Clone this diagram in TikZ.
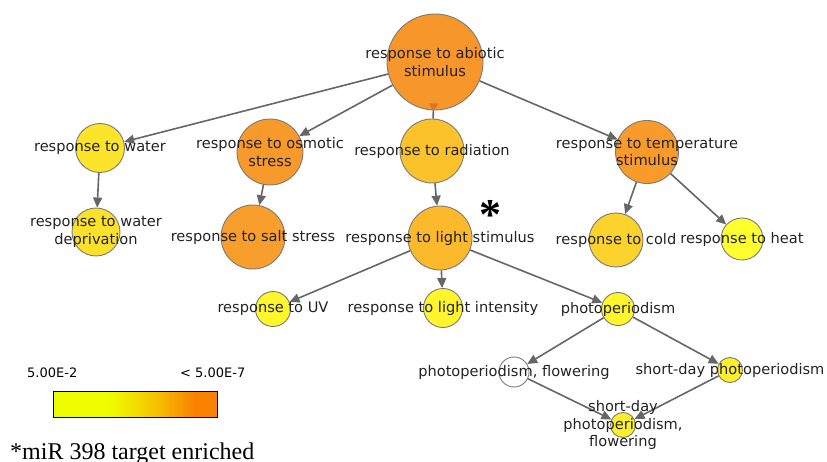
\documentclass[tikz,border=0pt]{standalone}
\usepackage{fontspec}
\setmainfont{DejaVu Sans}
\newfontfamily\tnr{Liberation Serif}
\usetikzlibrary{arrows.meta}
\definecolor{nodeborder}{HTML}{7A7A7A}
\definecolor{edgec}{HTML}{666666}
\definecolor{labelc}{HTML}{222222}
\definecolor{tipor}{HTML}{DC7420}
\definecolor{cAbiotic}{HTML}{F7962B}
\definecolor{cOsmotic}{HTML}{F79A2B}
\definecolor{cSalt}{HTML}{F79E2C}
\definecolor{cTemp}{HTML}{F89B2A}
\definecolor{cRad}{HTML}{FCC22B}
\definecolor{cLight}{HTML}{FBB92B}
\definecolor{cCold}{HTML}{FCD22C}
\definecolor{cWater}{HTML}{FCE42B}
\definecolor{cDep}{HTML}{FCE12B}
\definecolor{cHeat}{HTML}{FFFF2F}
\definecolor{cUV}{HTML}{FFF72D}
\definecolor{cInt}{HTML}{FFF52D}
\definecolor{cPhoto}{HTML}{FFF52D}
\definecolor{cShort}{HTML}{FFEF2C}
\definecolor{cSdf}{HTML}{FFEE2C}
\definecolor{legY}{HTML}{EEFE00}
\definecolor{legM}{HTML}{F5C800}
\definecolor{legO}{HTML}{F98200}
\pgfdeclarehorizontalshading{legendshade}{100bp}{color(0bp)=(legY); color(25bp)=(legY); color(42bp)=(legY); color(55bp)=(legM); color(68bp)=(legO); color(100bp)=(legO)}
\begin{document}
\begin{tikzpicture}[x=1pt,y=-1pt,
  go/.style={circle,draw=nodeborder,line width=0.9pt,inner sep=0pt,minimum size=#1},
  lbl/.style={text=labelc,font=\fontsize{14.6}{17.5}\selectfont,align=center,inner sep=0pt},
  leg/.style={text=black,font=\fontsize{13}{15}\selectfont,inner sep=0pt,anchor=base west},
  edge/.style={draw=edgec,line width=1.6pt,-{Triangle[length=10pt,width=9pt]}}]
\useasboundingbox (0,0) rectangle (827,462);
% nodes
\node[go=96pt,fill=cAbiotic] (abiotic) at (435,62) {};
\node[go=49pt,fill=cWater] (water) at (100,148) {};
\node[go=48pt,fill=cDep] (dep) at (96,232) {};
\node[go=66pt,fill=cOsmotic] (osmotic) at (270,152) {};
\node[go=64pt,fill=cSalt] (salt) at (253,237) {};
\node[go=64pt,fill=cRad] (rad) at (432,151) {};
\node[go=64pt,fill=cLight] (light) at (440,238) {};
\node[go=63pt,fill=cTemp] (temp) at (647,152) {};
\node[go=54pt,fill=cCold] (cold) at (616,240) {};
\node[go=42pt,fill=cHeat] (heat) at (742,239) {};
\node[go=35pt,fill=cUV] (uv) at (273,309) {};
\node[go=39pt,fill=cInt] (int) at (443,308) {};
\node[go=33pt,fill=cPhoto] (photo) at (618,309) {};
\node[go=30pt,fill=white] (flower) at (514,372) {};
\node[go=25pt,fill=cShort] (short) at (730,370) {};
\node[go=25pt,fill=cSdf] (sdf) at (623,425) {};
% edges
\draw[edge] (abiotic) -- (water);
\draw[edge] (abiotic) -- (osmotic);
\draw[draw=edgec,line width=1.6pt,shorten <=-7pt,{Triangle[reversed,length=8pt,width=9pt,color=tipor]}-] (abiotic) -- (rad);
\draw[edge] (abiotic) -- (temp);
\draw[edge] (water) -- (dep);
\draw[edge] (osmotic) -- (salt);
\draw[edge] (rad) -- (light);
\draw[edge] (temp) -- (cold);
\draw[edge] (temp) -- (heat);
\draw[edge] (light) -- (uv);
\draw[edge] (light) -- (int);
\draw[edge] (light) -- (photo);
\draw[edge] (photo) -- (flower);
\draw[edge] (photo) -- (short);
\draw[edge] (flower) -- (sdf);
\draw[edge] (short) -- (sdf);
% labels
\node[lbl] (t-abiotic) at (abiotic) {response to abiotic\\stimulus};
\node[lbl] (t-water) at (water) {response to water};
\node[lbl] (t-dep) at (dep) {response to water\\deprivation};
\node[lbl] (t-osmotic) at (osmotic) {response to osmotic\\stress};
\node[lbl] (t-salt) at (salt) {response to salt stress};
\node[lbl] (t-rad) at (rad) {response to radiation};
\node[lbl] (t-light) at (light) {response to light stimulus};
\node[lbl] (t-temp) at (temp) {response to temperature\\stimulus};
\node[lbl] (t-cold) at (cold) {response to cold};
\node[lbl] (t-heat) at (heat) {response to heat};
\node[lbl] (t-uv) at (uv) {response to UV};
\node[lbl] (t-int) at (int) {response to light intensity};
\node[lbl] (t-photo) at (photo) {photoperiodism};
\node[lbl] (t-flower) at (flower) {photoperiodism, flowering};
\node[lbl] (t-short) at (short) {short-day photoperiodism};
\node[lbl] (t-sdf) at (sdf) {short-day\\photoperiodism,\\flowering};
% asterisk
\node[inner sep=0pt,anchor=base,font=\fontsize{44}{44}\tnr\bfseries] (star) at (490,230) {\raisebox{0pt}[0.68em][-0.26em]{*}};
% legend
\node[leg] (leg-lo) at (27,377) {5.00E-2};
\node[leg] (leg-hi) at (180,377) {< 5.00E-7};
\shade[shading=legendshade,draw=black,line width=0.9pt] (53,391) rectangle (217,417);
\node[inner sep=0pt,anchor=base west,font=\fontsize{24}{24}\tnr] (note) at (10,459) {*miR 398 target enriched};
\end{tikzpicture}
\end{document}
